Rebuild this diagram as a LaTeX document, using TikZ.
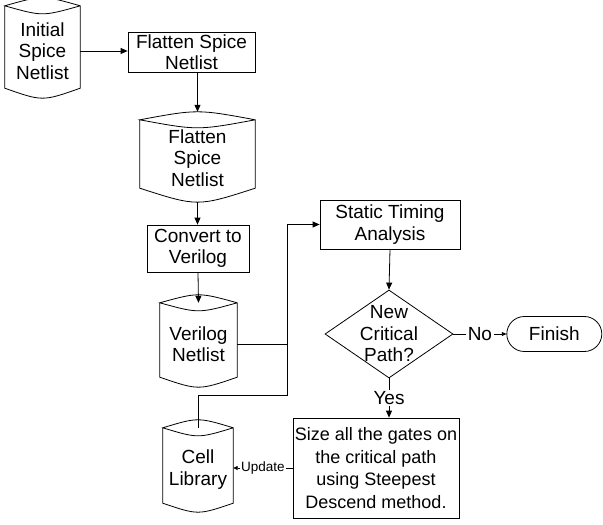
\documentclass[tikz,border=0pt]{standalone}
\usepackage{fontspec}
\setmainfont{Liberation Sans}
\usetikzlibrary{shapes.geometric,shapes.misc,positioning,calc,arrows.meta}
\newcommand{\boxfont}{\fontsize{19}{21.5}\selectfont}
\newcommand{\tagfont}{\fontsize{13.5}{15}\selectfont}
\tikzset{LINE/.style={line width=0.8pt}}
\tikzset{ARROW/.style={line width=0.8pt, -{Triangle[length=7pt,width=6pt]}}}
\tikzset{SMALLARROW/.style={line width=0.8pt, -{Triangle[length=4.5pt,width=4pt]}}}
\tikzset{PROCESS/.style={rectangle,draw,line width=0.8pt,inner sep=0pt,align=center,font=\boxfont}}
\tikzset{DATA/.style={rectangle,inner sep=0pt,align=center,font=\boxfont}}
\tikzset{DECISION/.style={diamond,draw,line width=0.8pt,inner sep=0pt}}
\tikzset{TERMINAL/.style={rounded rectangle,draw,line width=0.8pt,inner sep=0pt,font=\boxfont}}
\tikzset{TAG/.style={fill=white,inner sep=1.5pt,font=\boxfont}}

% stored data outline round a DATA node: #1 node, #2 sag of the bottom edge
\newcommand{\datacase}[2]{%
  \coordinate (#1-top) at ($(#1.north)+(0,-16)$);
  \coordinate (#1-rim) at ($(#1.north)+(0,-8)$);
  \coordinate (#1-bot) at ($(#1.south)+(0,#2)$);
  \draw[LINE] ($(#1.north west)+(0,-8)$) -- (#1.south west)
    .. controls ($(#1.south)+(0,1.33*#2)$) .. (#1.south east)
    -- ($(#1.north east)+(0,-8)$)
    .. controls ($(#1.north)+(0,-18.67)$) .. ($(#1.north west)+(0,-8)$)
    .. controls ($(#1.north)+(0,2.67)$) .. ($(#1.north east)+(0,-8)$);
}

\begin{document}
\begin{tikzpicture}[x=1pt,y=-1pt]
\useasboundingbox (0,0) rectangle (603,525);

\node[DATA, minimum width=75pt, minimum height=74pt] (n_init) at (42.5,51) {Initial\\Spice\\Netlist};
\datacase{n_init}{10}
\node[PROCESS, minimum width=127pt, minimum height=40pt] (n_flat) at (191.5,52) {Flatten Spice\\Netlist};

\node[DATA, minimum width=115pt, minimum height=60pt] (n_fdb) at (197.5,158) {Flatten\\Spice\\Netlist};
\datacase{n_fdb}{14}
\node[PROCESS, minimum width=102pt, minimum height=47pt] (n_conv) at (198,248.5) {Convert to\\Verilog};

\node[DATA, minimum width=77pt, minimum height=66pt] (n_vnet) at (198.5,344) {Verilog\\Netlist};
\datacase{n_vnet}{10}
\node[DATA, minimum width=70pt, minimum height=67pt] (n_cell) at (198,469.5) {Cell\\Library};
\datacase{n_cell}{9}

\node[PROCESS, minimum width=140pt, minimum height=49pt] (n_sta) at (390,224.5) {Static Timing\\Analysis};
\node[DECISION, minimum width=128pt, minimum height=88pt,
  label={[font=\boxfont,align=center]center:New\\Critical\\Path?}] (n_crit) at (389,334) {};
\node[TERMINAL, minimum width=95pt, minimum height=35pt, right=53pt of n_crit] (n_finish) {Finish};
\node[PROCESS, minimum width=166pt, minimum height=100pt, font=\fontsize{18}{22.6}\selectfont] (n_size) at (376,468)
  {Size all the gates on\\the critical path\\using Steepest\\Descend method.};

% main chain
\draw[ARROW] (n_init.east) -- (n_init.east -| n_flat.west);
\draw[ARROW] (n_flat.south -| n_fdb.north) -- (n_fdb-top);
\draw[ARROW] (n_fdb-bot) -- (n_fdb-bot |- n_conv.north);
\draw[ARROW] (n_conv.south) -- (n_vnet-rim);

% netlist and library both feed the timing step
\coordinate (c_bus) at (287,395);
\draw[LINE] (n_vnet.east) -- (n_vnet.east -| c_bus);
\draw[ARROW] (n_cell-rim) |- (c_bus) |- (n_sta.west);

\draw[ARROW] (n_sta.south) -- (n_crit.north);
\draw[SMALLARROW] (n_crit.east) -- (n_finish.west) node[TAG, midway]{No};
\draw[ARROW] (n_crit.south) -- (n_crit.south |- n_size.north) node[TAG, midway]{Yes};
\draw[SMALLARROW] (n_size.west) -- (n_size.west -| n_cell.east) node[TAG, midway, font=\tagfont, inner sep=1pt]{Update};

\end{tikzpicture}
\end{document}
